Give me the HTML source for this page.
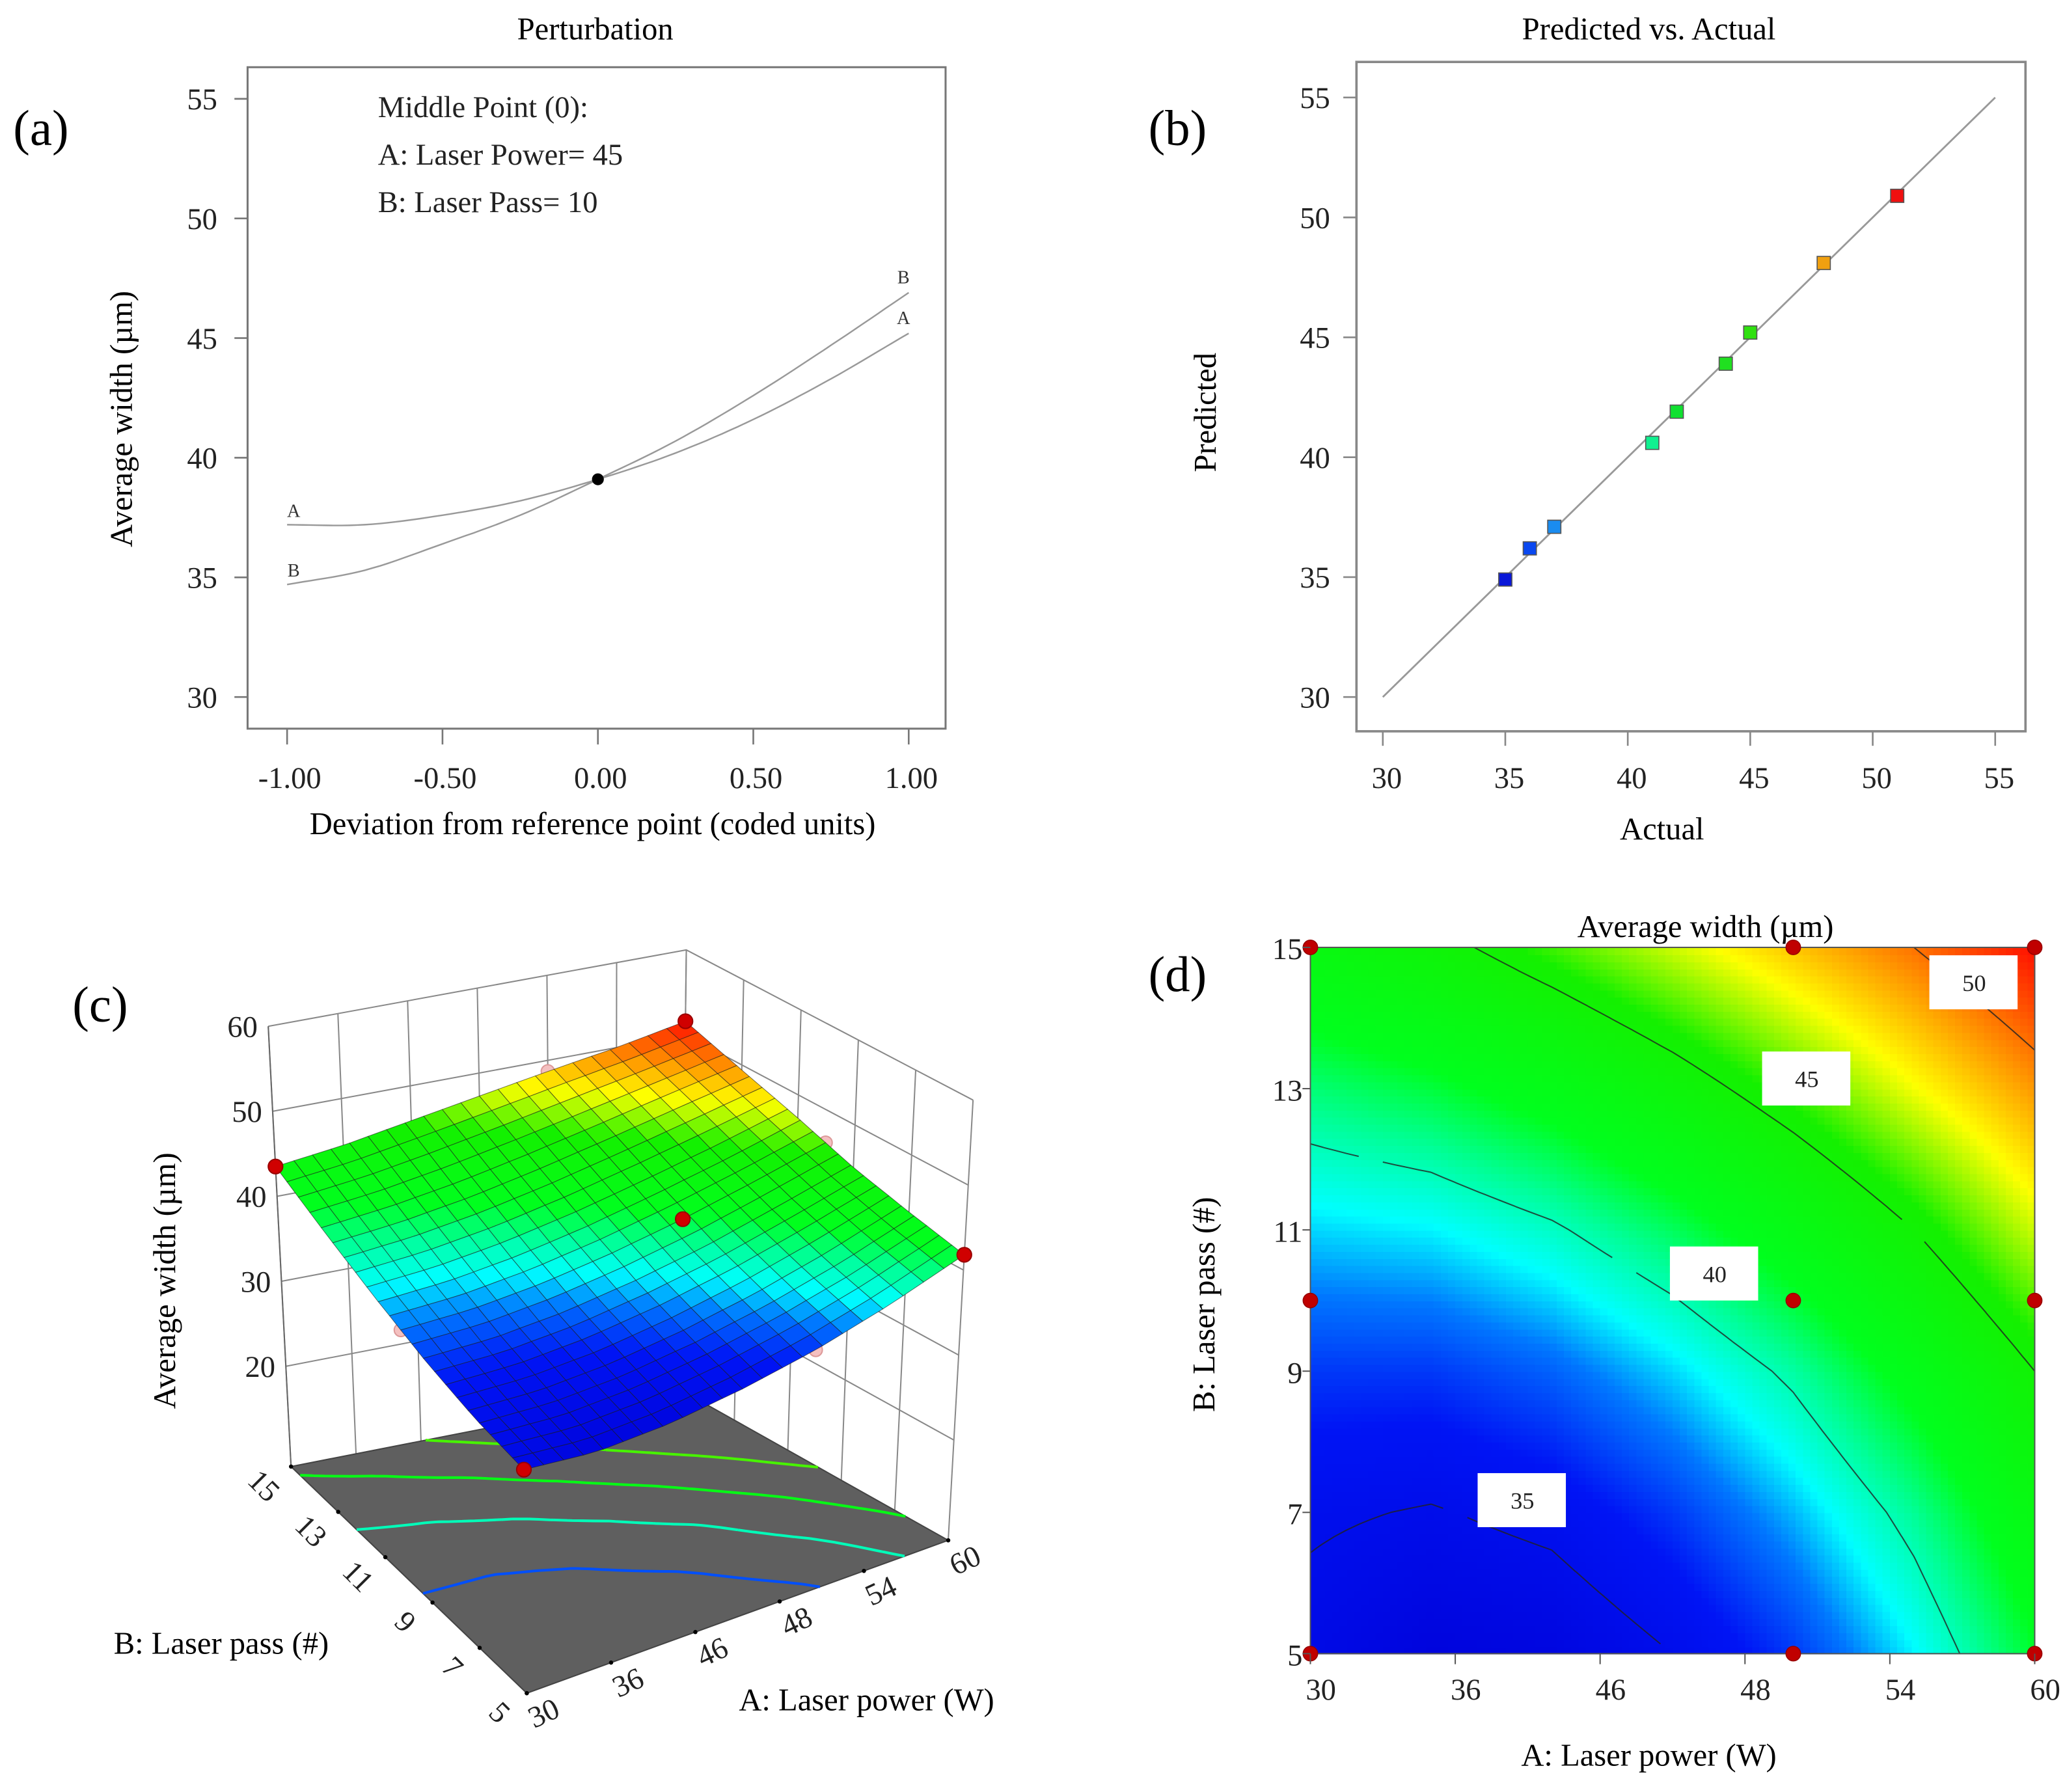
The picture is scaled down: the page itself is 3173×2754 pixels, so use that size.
<!DOCTYPE html>
<html><head><meta charset="utf-8"><style>
html,body{margin:0;padding:0;background:#fff;}
svg{display:block;}
svg text{font-family:"Liberation Serif","Times New Roman",serif;}
</style></head><body>
<svg id="fig" width="3173" height="2754" viewBox="0 0 1568 1360" preserveAspectRatio="none" xmlns="http://www.w3.org/2000/svg" font-family="Liberation Serif, serif">
<g id="pa"></g>
<g id="pb"></g>
<g id="pc"></g>
<g id="pd"></g>
</svg>
<script>
// ---- Panel (a) data ----
const pertX = [-1,-0.75,-0.5,-0.25,0,0.25,0.5,0.75,1];
const pertA = [37.2,37.2,37.6,38.2,39.1,40.2,41.6,43.3,45.2];
const pertB = [34.7,35.3,36.4,37.6,39.1,40.7,42.6,44.7,46.9];
const pertYTicks = [30,35,40,45,50,55];
const pertXTicks = ["-1.00","-0.50","0.00","0.50","1.00"];
// ---- Panel (b) data ----
const actual = [35,36,37,41,42,44,45,48,51];
const predicted = [34.9,36.2,37.1,40.6,41.9,43.9,45.2,48.1,50.9];
const pvaTicks = [30,35,40,45,50,55];
// ---- Panels (c),(d) response grid ----
const gridA = [30,35,40,45,50,55,60];
const gridB = [5,7,9,11,13,15];
const gridW = [
 [34.5,33.6,33.9,35.0,36.6,38.9,41.8],
 [35.2,34.9,35.4,36.6,38.3,40.5,43.3],
 [36.6,36.6,37.3,38.6,40.3,42.6,45.0],
 [38.6,38.9,39.8,41.2,43.0,45.0,47.3],
 [40.9,41.6,42.7,44.2,45.9,47.7,49.4],
 [43.5,44.5,45.9,47.3,48.7,50.0,51.6]
];
const contourLevels = [35,40,45,50];
const floorLevels = [37,40,43,46];
const designA = [30,30,30,50,50,50,60,60,60];
const designB = [5,10,15,5,10,15,5,10,15];
const dTickLabelsA = ["30","36","46","48","54","60"];
const dTickLabelsB = ["5","7","9","11","13","15"];
const zTicks = [20,30,40,50,60];

const NS="http://www.w3.org/2000/svg";
function mk(parent,tag,attrs,text){const e=document.createElementNS(NS,tag);for(const k in attrs)e.setAttribute(k,attrs[k]);if(text!==undefined)e.textContent=text;parent.appendChild(e);return e;}
function W(A,B){
  let fa=(A-30)/5, fb=(B-5)/2;
  fa=Math.max(0,Math.min(5.9999,fa)); fb=Math.max(0,Math.min(4.9999,fb));
  const i=Math.floor(fa), j=Math.floor(fb), ta=fa-i, tb=fb-j;
  const v00=gridW[j][i],v10=gridW[j][i+1],v01=gridW[j+1][i],v11=gridW[j+1][i+1];
  return (v00*(1-ta)+v10*ta)*(1-tb)+(v01*(1-ta)+v11*ta)*tb;
}
const stops=[[33,[0,0,215]],[36,[0,20,245]],[37.7,[0,120,255]],[39,[0,255,255]],[40.5,[0,255,150]],[42,[0,255,30]],[45.5,[20,240,0]],[47.8,[255,255,0]],[49.6,[255,140,0]],[51.5,[255,20,0]]];
function cmap(v){
  if(v<=stops[0][0])return `rgb(${stops[0][1]})`;
  for(let k=1;k<stops.length;k++){if(v<=stops[k][0]){const t=(v-stops[k-1][0])/(stops[k][0]-stops[k-1][0]);const a=stops[k-1][1],b=stops[k][1];return `rgb(${a.map((x,i)=>Math.round(x+(b[i]-x)*t)).join(',')})`;}}
  return `rgb(${stops[stops.length-1][1]})`;
}
function march(level,n,cb){
  for(let j=0;j<n;j++)for(let i=0;i<n;i++){
    const a0=30+30*i/n,a1=30+30*(i+1)/n,b0=5+10*j/n,b1=5+10*(j+1)/n;
    const c=[[a0,b0],[a1,b0],[a1,b1],[a0,b1]];const v=c.map(p=>W(p[0],p[1]));
    const pts=[];
    for(let e=0;e<4;e++){const p=c[e],q=c[(e+1)%4],vp=v[e],vq=v[(e+1)%4];
      if((vp-level)*(vq-level)<0){const t=(level-vp)/(vq-vp);pts.push([p[0]+(q[0]-p[0])*t,p[1]+(q[1]-p[1])*t]);}}
    if(pts.length>=2)cb(pts[0],pts[1]);
    if(pts.length===4)cb(pts[2],pts[3]);
  }
}

// ================= Panel A =================
(function(){
const g=document.getElementById('pa');
const x=v=>218+(v+1)/2*472, y=v=>529-(v-30)*(454/25);
mk(g,'text',{x:452,y:30,'font-size':24,'text-anchor':'middle',},'Perturbation');
mk(g,'text',{x:10,y:110,'font-size':38,},'(a)');
mk(g,'rect',{x:188,y:51,width:530,height:502,fill:'none',stroke:'#777','stroke-width':1.5,});
pertYTicks.forEach(t=>{mk(g,'line',{x1:178,x2:188,y1:y(t),y2:y(t),stroke:'#777','stroke-width':1.3});
 const e=mk(g,'text',{x:165,y:y(t)+8,'font-size':23,'text-anchor':'end',fill:'#222'},String(t));});
pertXTicks.forEach(t=>{const v=parseFloat(t);mk(g,'line',{x1:x(v),x2:x(v),y1:553,y2:565,stroke:'#777','stroke-width':1.3});
 const e=mk(g,'text',{x:x(v)+2,y:598,'font-size':23,'text-anchor':'middle',fill:'#222'},t);});
mk(g,'text',{x:450,y:633,'font-size':24,'text-anchor':'middle',},'Deviation from reference point (coded units)');
mk(g,'text',{x:0,y:0,'font-size':24,'text-anchor':'middle',transform:'translate(100,318) rotate(-90)',},'Average width (µm)');
['Middle Point (0):','A: Laser Power= 45','B: Laser Pass= 10'].forEach((s,i)=>{const e=mk(g,'text',{x:287,y:89+i*36,'font-size':23,fill:'#222'},s);});
[[pertA,'series-a'],[pertB,'series-b']].forEach(([arr,nm])=>{
  let d='';for(let k=0;k<pertX.length-1;k++){for(let s=0;s<=10;s++){const t=s/10;const xv=pertX[k]+(pertX[k+1]-pertX[k])*t;
   const m0=k>0?(arr[k+1]-arr[k-1])/2:arr[k+1]-arr[k], m1=k<arr.length-2?(arr[k+2]-arr[k])/2:arr[k+1]-arr[k];
   const h=(2*t*t*t-3*t*t+1)*arr[k]+(t*t*t-2*t*t+t)*m0+(-2*t*t*t+3*t*t)*arr[k+1]+(t*t*t-t*t)*m1;
   d+=(d?'L':'M')+x(xv).toFixed(1)+','+y(h).toFixed(1);}}
  const p=mk(g,'path',{d:d,fill:'none',stroke:'#999','stroke-width':1.2});
});
const la=mk(g,'text',{x:x(-1)+5,y:y(pertA[0])-6,'font-size':14,'text-anchor':'middle',fill:'#333','font-family':'Liberation Sans, sans-serif'},'A');
const lb=mk(g,'text',{x:x(-1)+5,y:y(pertB[0])-6,'font-size':14,'text-anchor':'middle',fill:'#333','font-family':'Liberation Sans, sans-serif'},'B');
const ra=mk(g,'text',{x:x(1)-4,y:y(pertA[8])-7,'font-size':14,'text-anchor':'middle',fill:'#333','font-family':'Liberation Sans, sans-serif'},'A');
const rb=mk(g,'text',{x:x(1)-4,y:y(pertB[8])-7,'font-size':14,'text-anchor':'middle',fill:'#333','font-family':'Liberation Sans, sans-serif'},'B');
mk(g,'circle',{cx:x(0),cy:y(pertA[4]),r:4.5,fill:'#000',});
})();

// ================= Panel B =================
(function(){
const g=document.getElementById('pb');
const x=v=>1050+(v-30)*(465/25), y=v=>529-(v-30)*(455/25);
const pointColors=['#0a18d8','#0a48f0','#1a8cf0','#10f090','#10e030','#20e020','#30e010','#f0a010','#f01010'];
mk(g,'text',{x:1252,y:30,'font-size':24,'text-anchor':'middle',},'Predicted vs. Actual');
mk(g,'text',{x:872,y:110,'font-size':38,},'(b)');
mk(g,'rect',{x:1030,y:47,width:508,height:508,fill:'none',stroke:'#888','stroke-width':1.8,});
pvaTicks.forEach(t=>{mk(g,'line',{x1:1020,x2:1030,y1:y(t),y2:y(t),stroke:'#888','stroke-width':1.3});
 const e=mk(g,'text',{x:1010,y:y(t)+8,'font-size':23,'text-anchor':'end',fill:'#222'},String(t));
 mk(g,'line',{x1:x(t),x2:x(t),y1:555,y2:566,stroke:'#888','stroke-width':1.3});
 const f=mk(g,'text',{x:x(t)+3,y:598,'font-size':23,'text-anchor':'middle',fill:'#222'},String(t));});
mk(g,'text',{x:1262,y:637,'font-size':24,'text-anchor':'middle',},'Actual');
mk(g,'text',{x:0,y:0,'font-size':24,'text-anchor':'middle',transform:'translate(923,313) rotate(-90)',},'Predicted');
mk(g,'line',{x1:x(30),y1:y(30),x2:x(55),y2:y(55),stroke:'#999','stroke-width':1.4,});
actual.forEach((a,i)=>{const r=mk(g,'rect',{x:x(a)-5,y:y(predicted[i])-5,width:10,height:10,fill:pointColors[i],stroke:'#555','stroke-width':0.8});
 });
})();

// ================= Panel D =================
(function(){
const g=document.getElementById('pd');
const X0=995,X1=1545,Y0=1255,Y1=719;
const x=a=>X0+(a-30)/30*(X1-X0), y=b=>Y0-(b-5)/10*(Y0-Y1);
const hm=mk(g,'g',{'shape-rendering':'crispEdges'});
const N=100;
for(let j=0;j<N;j++)for(let i=0;i<N;i++){
  const a0=30+30*i/N,a1=30+30*(i+1)/N,b0=5+10*j/N,b1=5+10*(j+1)/N;
  const c=mk(hm,'rect',{x:x(a0).toFixed(2),y:y(b1).toFixed(2),width:(x(a1)-x(a0)+0.6).toFixed(2),height:(y(b0)-y(b1)+0.6).toFixed(2),fill:cmap(W((a0+a1)/2,(b0+b1)/2))});
  
  
}
contourLevels.forEach(L=>{let d='';march(L,60,(p,q)=>{d+=`M${x(p[0]).toFixed(1)},${y(p[1]).toFixed(1)}L${x(q[0]).toFixed(1)},${y(q[1]).toFixed(1)}`;});
 const p=mk(g,'path',{d:d,fill:'none',stroke:'#222','stroke-width':1,'stroke-opacity':0.8});});
[[50,1465,725],[45,1338,798],[40,1268,946],[35,1122,1118]].forEach(([l,bx,by])=>{
 const r=mk(g,'rect',{x:bx,y:by,width:67,height:41,fill:'#fff'});
 const t=mk(g,'text',{x:bx+34,y:by+27,'font-size':18,'text-anchor':'middle',fill:'#222','font-family':'Liberation Sans, sans-serif'},String(l));});
mk(g,'rect',{x:X0,y:Y1,width:X1-X0,height:Y0-Y1,fill:'none',stroke:'#555','stroke-width':1,});
designA.forEach((a,i)=>{const c=mk(g,'circle',{cx:x(a),cy:y(designB[i]),r:5.5,fill:'#c00000',stroke:'#900','stroke-width':0.8});});
dTickLabelsA.forEach((t,i)=>{const xx=X0+i*(X1-X0)/5;mk(g,'line',{x1:xx,x2:xx,y1:Y0,y2:Y0+8,stroke:'#555'});
 const e=mk(g,'text',{x:xx+8,y:Y0+35,'font-size':23,'text-anchor':'middle',fill:'#222'},t);});
dTickLabelsB.forEach((t,i)=>{const yy=Y0-i*(Y0-Y1)/5;mk(g,'line',{x1:X0-6,x2:X0,y1:yy,y2:yy,stroke:'#555'});
 const e=mk(g,'text',{x:X0-6,y:yy+9,'font-size':23,'text-anchor':'end',fill:'#222'},t);});
mk(g,'text',{x:1295,y:711,'font-size':24,'text-anchor':'middle',},'Average width (µm)');
mk(g,'text',{x:872,y:752,'font-size':38,},'(d)');
mk(g,'text',{x:1252,y:1340,'font-size':24,'text-anchor':'middle',},'A: Laser power (W)');
mk(g,'text',{x:0,y:0,'font-size':24,'text-anchor':'middle',transform:'translate(922,990) rotate(-90)',},'B: Laser pass (#)');
})();

// ================= Panel C =================
(function(){
const g=document.getElementById('pc');
const FX=[400,720,221,517], FY=[1285,1169,1113,1055], WF=8.2;
function P(A,B,w){const u=(A-30)/30,v=(B-5)/10;
  const bx=(1-u)*(1-v)*FX[0]+u*(1-v)*FX[1]+(1-u)*v*FX[2]+u*v*FX[3];
  const by=(1-u)*(1-v)*FY[0]+u*(1-v)*FY[1]+(1-u)*v*FY[2]+u*v*FY[3];
  const k=6.45, s=0.0014, cx=460;
  return [cx+(bx-cx)*(1+s*(w-WF)),by-k*(w-WF)];}
const pt=p=>p[0].toFixed(1)+','+p[1].toFixed(1);
const wall=mk(g,'g',{stroke:'#888','stroke-width':1,fill:'none'});
[30,35,40,45,50,55,60].forEach(a=>{mk(wall,'line',{x1:P(a,15,WF)[0],y1:P(a,15,WF)[1],x2:P(a,15,60)[0],y2:P(a,15,60)[1]});});
[5,7,9,11,13,15].forEach(b=>{mk(wall,'line',{x1:P(60,b,WF)[0],y1:P(60,b,WF)[1],x2:P(60,b,60)[0],y2:P(60,b,60)[1]});});
zTicks.forEach(z=>{mk(wall,'polyline',{points:pt(P(30,15,z))+' '+pt(P(60,15,z))+' '+pt(P(60,5,z))});
  const e=mk(g,'text',{x:P(30,15,z)[0]-8,y:P(30,15,z)[1]+8,'font-size':23,'text-anchor':'end',fill:'#222'},String(z));});
mk(wall,'polyline',{points:pt(P(30,15,60))+' '+pt(P(30,15,WF))+' '+pt(P(30,5,WF)),stroke:'#666'});
mk(g,'polygon',{points:[P(30,5,WF),P(60,5,WF),P(60,15,WF),P(30,15,WF)].map(pt).join(' '),fill:'#5f5f5f',stroke:'#444','stroke-width':1,});
floorLevels.forEach(L=>{let d='';march(L,40,(p,q)=>{d+='M'+pt(P(p[0],p[1],WF))+'L'+pt(P(q[0],q[1],WF));});
 const p=mk(g,'path',{d:d,fill:'none',stroke:cmap(L),'stroke-width':2});});
[[50,15],[60,10],[30,10],[50,5]].forEach(([a,b])=>{const q=P(a,b,W(a,b));const c=mk(g,'circle',{cx:q[0],cy:q[1],r:5,fill:'#f4c0c0',stroke:'#d99'});});
const S=mk(g,'g',{});
const N=22,quads=[];
for(let j=0;j<N;j++)for(let i=0;i<N;i++)quads.push([i,j]);
quads.sort((p,q)=>(q[0]+q[1])-(p[0]+p[1]));
quads.forEach(([i,j])=>{const a0=30+30*i/N,a1=30+30*(i+1)/N,b0=5+10*j/N,b1=5+10*(j+1)/N;
  const c=[[a0,b0],[a1,b0],[a1,b1],[a0,b1]];
  const q=mk(S,'polygon',{points:c.map(p=>pt(P(p[0],p[1],W(p[0],p[1])))).join(' '),fill:cmap(W((a0+a1)/2,(b0+b1)/2)),stroke:'#1a1a1a','stroke-width':0.5,'stroke-opacity':0.6});
  
  });
[[30,5],[60,5],[30,15],[60,15],[50,10]].forEach(([a,b])=>{const q=P(a,b,W(a,b));const c=mk(g,'circle',{cx:q[0],cy:q[1],r:5.5,fill:'#d00000',stroke:'#900'});});
dTickLabelsB.forEach((t,i)=>{const q=P(30,5+2*i,WF);mk(g,'circle',{cx:q[0],cy:q[1],r:1.6,fill:'#000'});
  const e=mk(g,'text',{x:0,y:0,'font-size':23,'text-anchor':'middle',fill:'#222',transform:`translate(${q[0]-26},${q[1]+20}) rotate(45)`},t);});
dTickLabelsA.forEach((t,i)=>{const q=P(30+6*i,5,WF);mk(g,'circle',{cx:q[0],cy:q[1],r:1.6,fill:'#000'});
  const e=mk(g,'text',{x:0,y:0,'font-size':23,'text-anchor':'middle',fill:'#222',transform:`translate(${q[0]+16},${q[1]+22}) rotate(-25)`},t);});
mk(g,'text',{x:0,y:0,'font-size':24,'text-anchor':'middle',transform:'translate(133,972) rotate(-90)',},'Average width (µm)');
mk(g,'text',{x:168,y:1255,'font-size':24,'text-anchor':'middle',},'B: Laser pass (#)');
mk(g,'text',{x:658,y:1298,'font-size':24,'text-anchor':'middle',},'A: Laser power (W)');
mk(g,'text',{x:55,y:775,'font-size':38,},'(c)');
})();
</script>
</body></html>
